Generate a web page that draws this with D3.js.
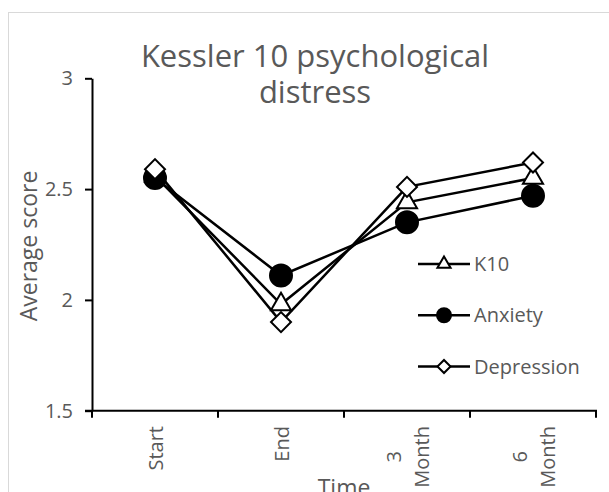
<!DOCTYPE html>
<html>
<head>
<meta charset="utf-8">
<script src="https://cdn.jsdelivr.net/npm/d3@7"></script>
<style>
  body { margin: 0; background: #fff; }
  text { font-family: "Open Sans", sans-serif; fill: #595959; }
</style>
</head>
<body>
<div id="chart"></div>
<script>
// data
var categories = ["Start", "End", "3 Month", "6 Month"];
var k10 = [2.56, 1.98, 2.44, 2.55];
var anxiety = [2.55, 2.11, 2.35, 2.47];
var depression = [2.59, 1.90, 2.51, 2.62];
var yTicks = [1.5, 2, 2.5, 3];
var seriesNames = ["K10", "Anxiety", "Depression"];

var W = 609, H = 492;
var plotLeft = 92, plotRight = 596, plotTop = 78.3, plotBottom = 410.7;

var svg = d3.select("#chart").append("svg")
  .attr("width", W)
  .attr("height", H);

// chart area border (runs off the right/bottom edge)
svg.append("rect")
  .attr("x", 8.5).attr("y", 12.5)
  .attr("width", W + 20).attr("height", H + 20)
  .attr("fill", "#fff")
  .attr("stroke", "#d9d9d9")
  .attr("stroke-width", 1);

var x = d3.scaleBand().domain(categories).range([plotLeft, plotRight]).padding(0);
var y = d3.scaleLinear().domain([1.5, 3]).range([plotBottom, plotTop]);

// title
svg.append("text")
  .attr("x", 315).attr("y", 66.5)
  .attr("text-anchor", "middle")
  .style("font-size", "31px")
  .text("Kessler 10 psychological");
svg.append("text")
  .attr("x", 315).attr("y", 102.5)
  .attr("text-anchor", "middle")
  .style("font-size", "31px")
  .text("distress");

// y axis
var yAxis = svg.append("g")
  .attr("transform", "translate(" + plotLeft + ",0)")
  .call(d3.axisLeft(y).tickValues(yTicks).tickFormat(d3.format("")).tickSize(7).tickSizeOuter(0).tickPadding(12));
yAxis.select(".domain").attr("stroke", "#000").attr("stroke-width", 2);
yAxis.selectAll(".tick line").attr("stroke", "#000").attr("stroke-width", 2);
yAxis.selectAll(".tick text")
  .style("font-size", "20px")
  .style("font-family", "'Open Sans', sans-serif")
  .attr("fill", "#595959");

// x axis: line, boundary ticks, rotated wrapped labels
var xAxis = svg.append("g").classed("xaxis", true);
xAxis.append("line")
  .attr("x1", plotLeft - 7).attr("x2", plotRight + 1)
  .attr("y1", plotBottom).attr("y2", plotBottom)
  .attr("stroke", "#000").attr("stroke-width", 2);
var edges = categories.map(function(c){ return x(c); }).concat([x.range()[1]]);
xAxis.selectAll("line.tk").data(edges).enter()
  .append("line")
  .classed("tk", true)
  .attr("x1", function(d){ return d; })
  .attr("x2", function(d){ return d; })
  .attr("y1", plotBottom)
  .attr("y2", plotBottom + 7)
  .attr("stroke", "#000").attr("stroke-width", 2);

var lbl = xAxis.selectAll("g.lbl").data(categories).enter()
  .append("g")
  .classed("lbl", true)
  .attr("transform", function(d){
    return "translate(" + (x(d) + x.bandwidth() / 2) + "," + 426 + ") rotate(-90)";
  });
lbl.each(function(d){
  var g = d3.select(this);
  var lines = d.split(" ");
  var n = lines.length;
  var t = g.selectAll("text").data(lines).enter()
    .append("text")
    .attr("text-anchor", "middle")
    .style("font-size", "20px")
    .attr("y", function(s, i){ return (i - (n - 1) / 2) * 28 + 8; })
    .text(function(s){ return s; });
  var maxW = 0;
  t.each(function(){ maxW = Math.max(maxW, this.getComputedTextLength()); });
  t.attr("x", -maxW / 2);
});

// axis titles
svg.append("text")
  .attr("transform", "translate(37,246) rotate(-90)")
  .attr("text-anchor", "middle")
  .style("font-size", "23px")
  .text("Average score");
svg.append("text")
  .attr("x", (plotLeft + plotRight) / 2).attr("y", 496)
  .attr("text-anchor", "middle")
  .style("font-size", "23px")
  .text("Time");

// series
var series = [
  { name: seriesNames[0], values: k10, shape: d3.symbolTriangle, size: 175, lsize: 75, fill: "#fff", rot: 0 },
  { name: seriesNames[1], values: anxiety, shape: d3.symbolCircle, size: 380, lsize: 154, fill: "#000", rot: 0 },
  { name: seriesNames[2], values: depression, shape: d3.symbolSquare, size: 200, lsize: 85, fill: "#fff", rot: 45 }
];

var line = d3.line()
  .x(function(d, i){ return x(categories[i]) + x.bandwidth() / 2; })
  .y(function(d){ return y(d); });

series.forEach(function(s){
  var g = svg.append("g").classed("series", true);
  g.append("path")
    .attr("d", line(s.values))
    .attr("fill", "none")
    .attr("stroke", "#000")
    .attr("stroke-width", 2.5);
  g.selectAll("path.mk").data(s.values).enter()
    .append("path")
    .classed("mk", true)
    .attr("d", d3.symbol().type(s.shape).size(s.size))
    .attr("transform", function(d, i){
      return "translate(" + (x(categories[i]) + x.bandwidth() / 2) + "," + y(d) + ") rotate(" + s.rot + ")";
    })
    .attr("fill", s.fill)
    .attr("stroke", "#000")
    .attr("stroke-width", 2);
});

// legend
var legY = d3.scalePoint().domain(seriesNames).range([264, 366.5]);
var leg = svg.selectAll("g.leg").data(series).enter()
  .append("g")
  .classed("leg", true)
  .attr("transform", function(d){ return "translate(418," + legY(d.name) + ")"; });
leg.append("line")
  .attr("x1", 0).attr("x2", 52)
  .attr("stroke", "#000").attr("stroke-width", 2.5);
leg.append("path")
  .attr("d", function(d){ return d3.symbol().type(d.shape).size(d.lsize)(); })
  .attr("transform", function(d){ return "translate(26,0) rotate(" + d.rot + ")"; })
  .attr("fill", function(d){ return d.fill; })
  .attr("stroke", "#000")
  .attr("stroke-width", 2);
leg.append("text")
  .attr("x", 56).attr("dy", "0.35em")
  .style("font-size", "20px")
  .text(function(d){ return d.name; });
</script>
</body>
</html>
